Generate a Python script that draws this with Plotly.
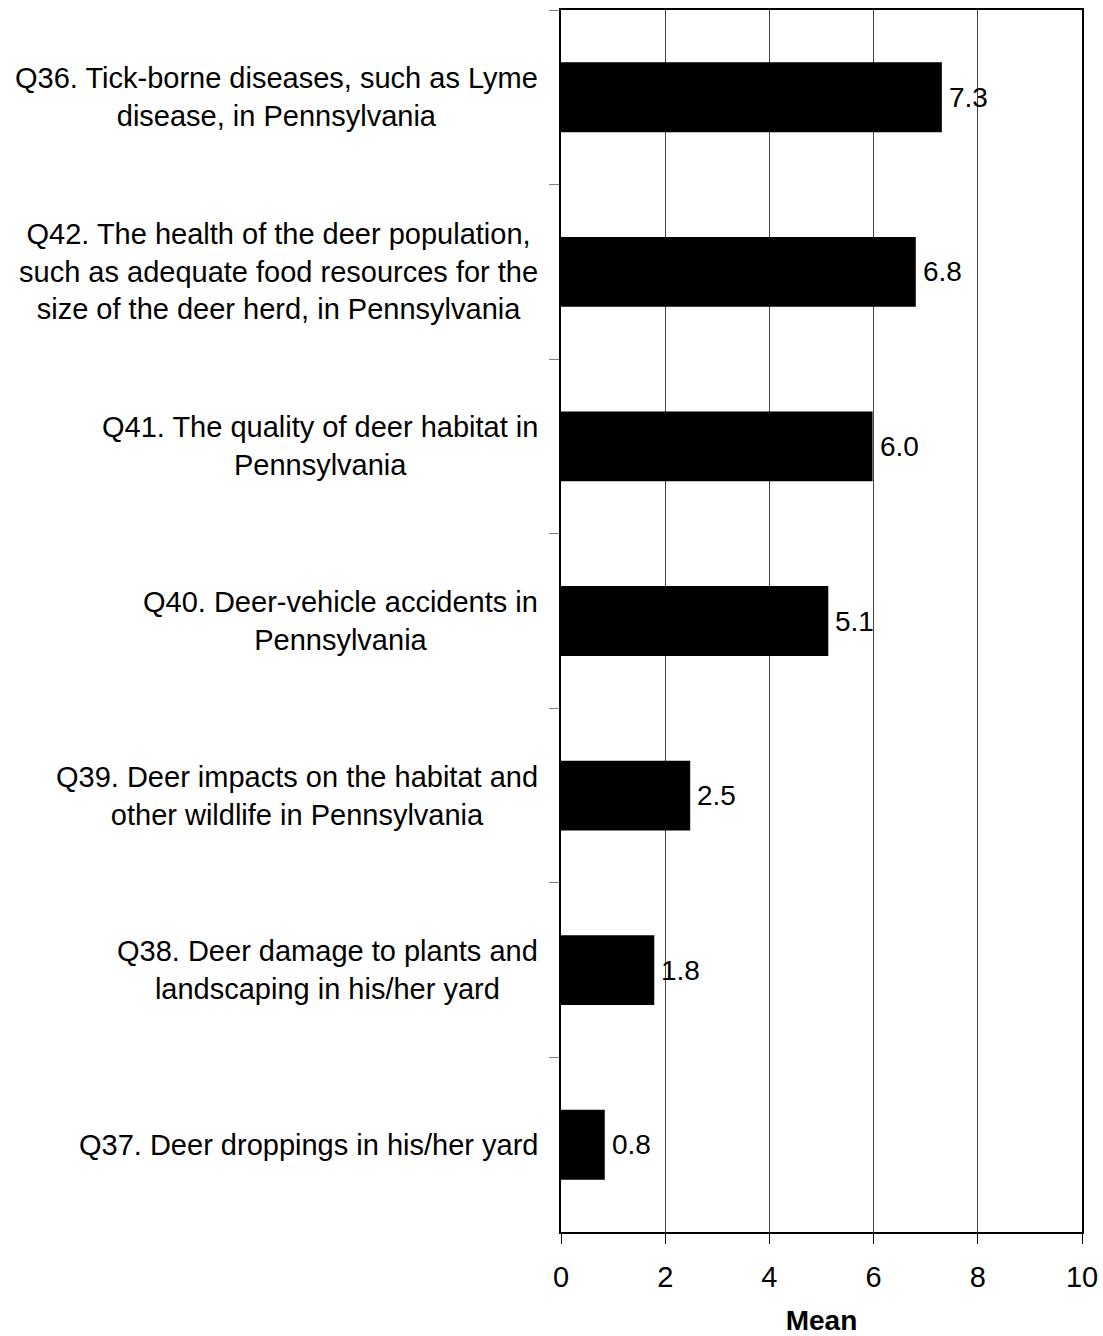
import plotly.graph_objects as go

categories = [
    "Q36. Tick-borne diseases, such as Lyme<br>disease, in Pennsylvania",
    "Q42. The health of the deer population,<br>such as adequate food resources for the<br>size of the deer herd, in Pennsylvania",
    "Q41. The quality of deer habitat in<br>Pennsylvania",
    "Q40. Deer-vehicle accidents in<br>Pennsylvania",
    "Q39. Deer impacts on the habitat and<br>other wildlife in Pennsylvania",
    "Q38. Deer damage to plants and<br>landscaping in his/her yard",
    "Q37. Deer droppings in his/her yard",
]
means = [7.31, 6.81, 5.98, 5.13, 2.48, 1.79, 0.84]
x_ticks = [0, 2, 4, 6, 8, 10]

FONT = "Arial, Liberation Sans, sans-serif"

fig = go.Figure(go.Bar(
    x=means, y=categories, orientation="h",
    marker=dict(color="black", line=dict(width=0)),
    width=0.4, hoverinfo="skip",
))

annotations = []
for c, v in zip(categories, means):
    annotations.append(dict(
        x=v, y=c, xref="x", yref="y", text=f"{v:.1f}", showarrow=False,
        xanchor="left", yanchor="middle", xshift=5,
        font=dict(family=FONT, size=28, color="black"),
    ))
    annotations.append(dict(
        x=0, y=c, xref="paper", yref="y", text=c, showarrow=False,
        xanchor="right", yanchor="middle", align="center", xshift=-21,
        font=dict(family=FONT, size=29, color="black"),
    ))

fig.update_layout(
    width=1103, height=1336,
    margin=dict(l=561, r=21, t=10, b=104),
    paper_bgcolor="white", plot_bgcolor="white",
    showlegend=False,
    annotations=annotations,
    xaxis=dict(
        range=[0, 10], tickvals=x_ticks, ticktext=[str(t) for t in x_ticks],
        showgrid=True, gridcolor="#444444", gridwidth=1,
        zeroline=False, automargin=False,
        showline=True, linecolor="black", linewidth=2, mirror=True,
        ticks="outside", ticklen=10, tickcolor="black", tickwidth=1,
        ticklabelstandoff=8,
        tickfont=dict(family=FONT, size=29, color="black"),
        title=dict(text="<b>Mean</b>", font=dict(family=FONT, size=28, color="black"), standoff=24),
    ),
    yaxis=dict(
        type="category", autorange="reversed", automargin=False,
        showticklabels=False, tickson="boundaries",
        ticks="outside", ticklen=10, tickcolor="#808080", tickwidth=1,
        showgrid=False, zeroline=False,
        showline=True, linecolor="black", linewidth=2, mirror=True,
    ),
)

fig.write_html(
    "out.html",
    config={"displayModeBar": False},
    post_script="document.body.style.margin='0';document.body.style.overflow='hidden';",
)
